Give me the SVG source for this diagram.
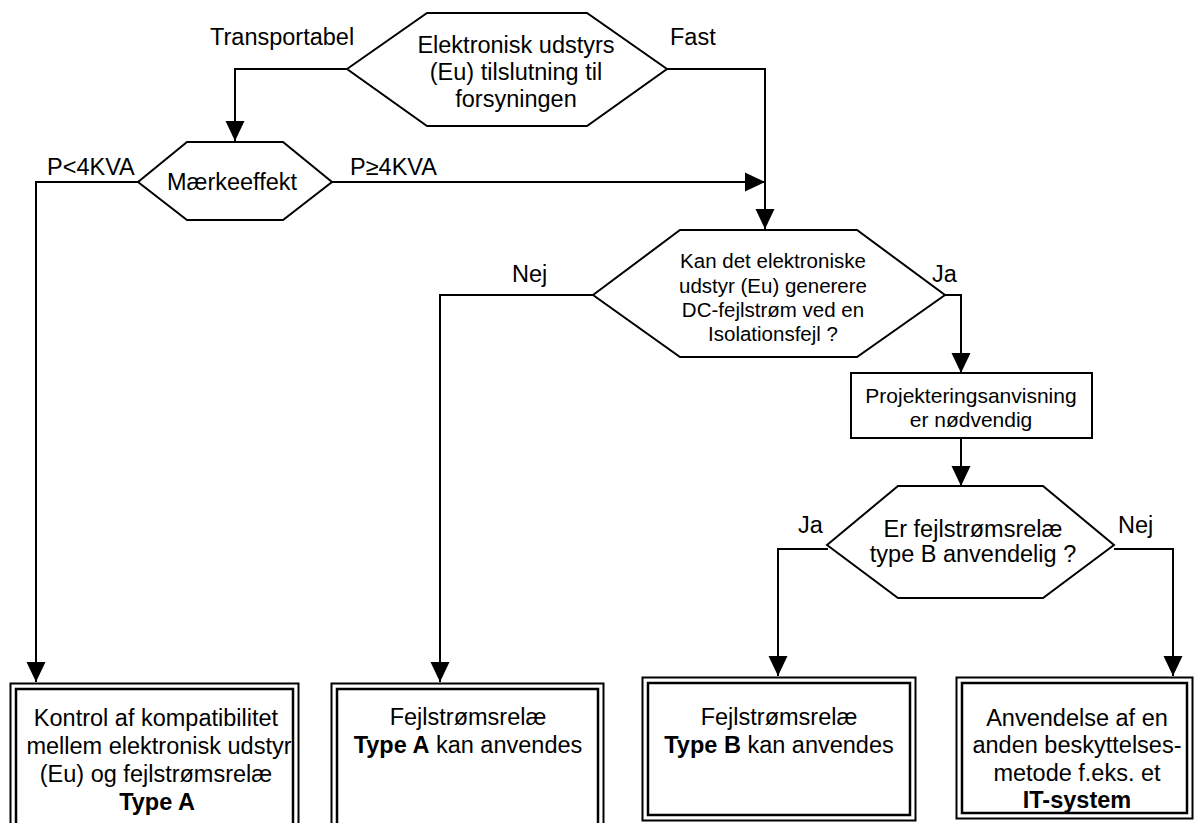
<svg xmlns="http://www.w3.org/2000/svg" width="1195" height="823" viewBox="0 0 1195 823">
<style>
text{font-family:"Liberation Sans",Arial,sans-serif;font-size:23.5px;fill:#000}
.c{text-anchor:middle}
.s20{font-size:20.5px}
.b{font-weight:bold}
.shape{fill:#fff;stroke:#000;stroke-width:2}
.o{fill:none;stroke:#000;stroke-width:2}
.i{fill:none;stroke:#000;stroke-width:2.5}
.conn path{fill:none;stroke:#000;stroke-width:2;marker-end:url(#ah)}
.conn path.na{marker-end:none}
</style>
<defs>
<marker id="ah" markerUnits="userSpaceOnUse" viewBox="0 0 20 20" markerWidth="20" markerHeight="20" refX="20" refY="10" orient="auto">
<path d="M0,0.5 L20,10 L0,19.5 z" fill="#000"/>
</marker>
<clipPath id="clip1"><rect x="16.5" y="689.5" width="276" height="140"/></clipPath>
</defs>
<rect width="1195" height="823" fill="#fff"/>

<g id="connectors" class="conn">
<path d="M347,69 H235 V141"/>
<path d="M667,69 H765 V229"/>
<path d="M138,182 H36 V682"/>
<path d="M332,182 H765"/>
<path d="M593,295 H440 V682"/>
<path d="M945,295 H961 V373"/>
<path d="M961,438 V486"/>
<path d="M828,549 H778 V676"/>
<path d="M1114,549 H1173 V676"/>
</g>

<g id="labels">
<text x="210" y="45">Transportabel</text>
<text x="670" y="45">Fast</text>
<text x="47" y="175">P&lt;4KVA</text>
<text x="350" y="175">P≥4KVA</text>
<text x="512" y="282">Nej</text>
<text x="932" y="282">Ja</text>
<text x="798" y="533">Ja</text>
<text x="1118" y="533">Nej</text>
</g>

<g id="n-tilslutning">
<polygon class="shape" points="347,69 427,13 587,13 667,69 587,126 427,126"/>
<text class="c" x="516" y="53">Elektronisk udstyrs</text>
<text class="c" x="516" y="80">(Eu) tilslutning til</text>
<text class="c" x="516" y="106.5">forsyningen</text>
</g>

<g id="n-maerkeeffekt">
<polygon class="shape" points="138,182 187,142 283,142 332,182 283,220 187,220"/>
<text class="c" x="232" y="190">Mærkeeffekt</text>
</g>

<g id="n-dc">
<polygon class="shape" points="593,295 680,230 857,230 945,295 857,357 680,357"/>
<text class="c s20" x="773" y="268">Kan det elektroniske</text>
<text class="c s20" x="773" y="293">udstyr (Eu) generere</text>
<text class="c s20" x="773" y="317">DC-fejlstrøm ved en</text>
<text class="c s20" x="773" y="341">Isolationsfejl ?</text>
</g>

<g id="n-projektering">
<rect class="shape" x="851" y="373" width="241" height="65"/>
<text class="c" style="font-size:21px" x="971" y="403">Projekteringsanvisning</text>
<text class="c" style="font-size:21px" x="971" y="427">er nødvendig</text>
</g>

<g id="n-typeb-q">
<polygon class="shape" points="827,545 898,486 1043,486 1114,545 1043,598 898,598"/>
<text class="c" x="973" y="537">Er fejlstrømsrelæ</text>
<text class="c" x="973" y="562">type B anvendelig ?</text>
</g>

<g id="n-kontrol">
<rect class="o" x="10.5" y="683.5" width="288" height="150"/>
<rect class="i" x="16" y="689" width="277" height="140"/>
<g clip-path="url(#clip1)">
<text class="c" x="156" y="726">Kontrol af kompatibilitet</text>
<text class="c" x="159" y="754">mellem elektronisk udstyr</text>
<text class="c" x="156" y="782">(Eu) og fejlstrømsrelæ</text>
<text class="c b" x="157" y="810">Type A</text>
</g>
</g>

<g id="n-typea">
<rect class="o" x="331.5" y="683.5" width="272" height="150"/>
<rect class="i" x="337" y="689" width="261" height="140"/>
<text class="c" x="468" y="725">Fejlstrømsrelæ</text>
<text class="c" x="468" y="753"><tspan class="b">Type A</tspan> kan anvendes</text>
</g>

<g id="n-typeb">
<rect class="o" x="642.5" y="677.5" width="273" height="143"/>
<rect class="i" x="648" y="683" width="262" height="132"/>
<text class="c" x="779" y="725">Fejlstrømsrelæ</text>
<text class="c" x="779" y="753"><tspan class="b">Type B</tspan> kan anvendes</text>
</g>

<g id="n-itsystem">
<rect class="o" x="956.5" y="677.5" width="236" height="141"/>
<rect class="i" x="962" y="683" width="225" height="130"/>
<text class="c" x="1077" y="726">Anvendelse af en</text>
<text class="c" x="1077" y="753">anden beskyttelses-</text>
<text class="c" x="1077" y="781">metode f.eks. et</text>
<text class="c b" x="1077" y="808">IT-system</text>
</g>
</svg>
